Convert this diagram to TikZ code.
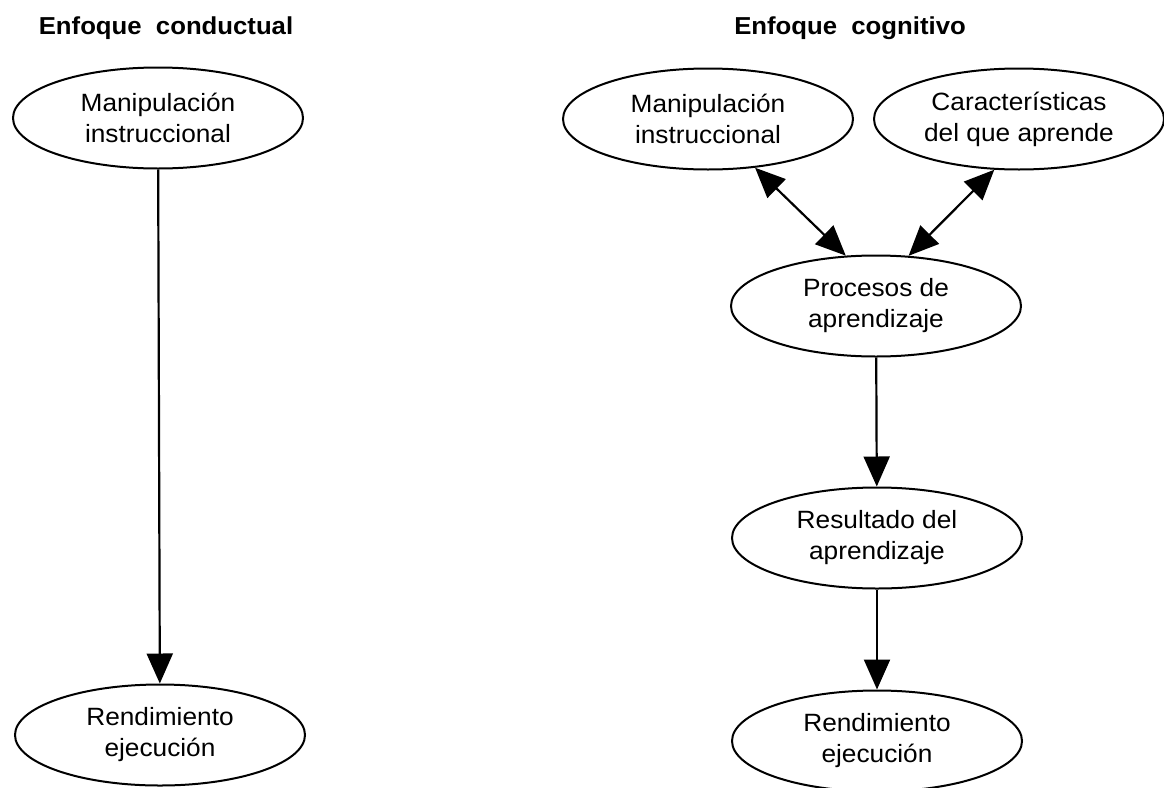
\documentclass[tikz,border=0pt]{standalone}
\usepackage{fontspec}
\setmainfont[FakeStretch=1.05]{Liberation Sans}
\usetikzlibrary{shapes.geometric,arrows.meta}

\begin{document}
\begin{tikzpicture}[x=1pt,y=-1pt,
		elli/.style={draw, ellipse, line width=2pt, minimum width=290pt, minimum height=101pt, inner sep=0pt, align=center, font=\fontsize{25}{31}\selectfont},
		titulo/.style={anchor=base, font=\fontsize{24.5}{28}\selectfont\bfseries},
		flecha/.style={line width=2.2pt, -{Triangle[length=30pt,width=26pt]}},
		doble/.style={line width=2.2pt, {Triangle[length=30pt,width=26pt]}-{Triangle[length=30pt,width=26pt]}}]
			\useasboundingbox (0,0) rectangle (1164,787);
			%\draw[red] (0,0) rectangle (1164,787);
			\node[titulo] (tcond) at (166,34) {Enfoque\ \ conductual};
			\node[titulo] (tcogn) at (850,34) {Enfoque\ \ cognitivo};
			% conductual
			\node[elli] (manipA) at (158,118) {Manipulación\\instruccional};
			\node[elli] (rendA) at (160,735) {Rendimiento\\ejecución};
			\draw[flecha] (manipA) -- (rendA);
			% cognitivo
			\node[elli] (manipB) at (708,119) {Manipulación\\instruccional};
			\node[elli] (carac) at (1019,119) {Características\\del que aprende};
			\node[elli] (proc) at (876,306) {Procesos de\\aprendizaje};
			\node[elli] (result) at (877,538) {Resultado del\\aprendizaje};
			\node[elli] (rendB) at (877,741) {Rendimiento\\ejecución};
			\draw[doble] (manipB.-46) -- (proc.121);
			\draw[doble] (carac.-116) -- (proc.57);
			\draw[flecha] (proc) -- (result);
			\draw[flecha] (result) -- (rendB);
		\end{tikzpicture}
\end{document}
